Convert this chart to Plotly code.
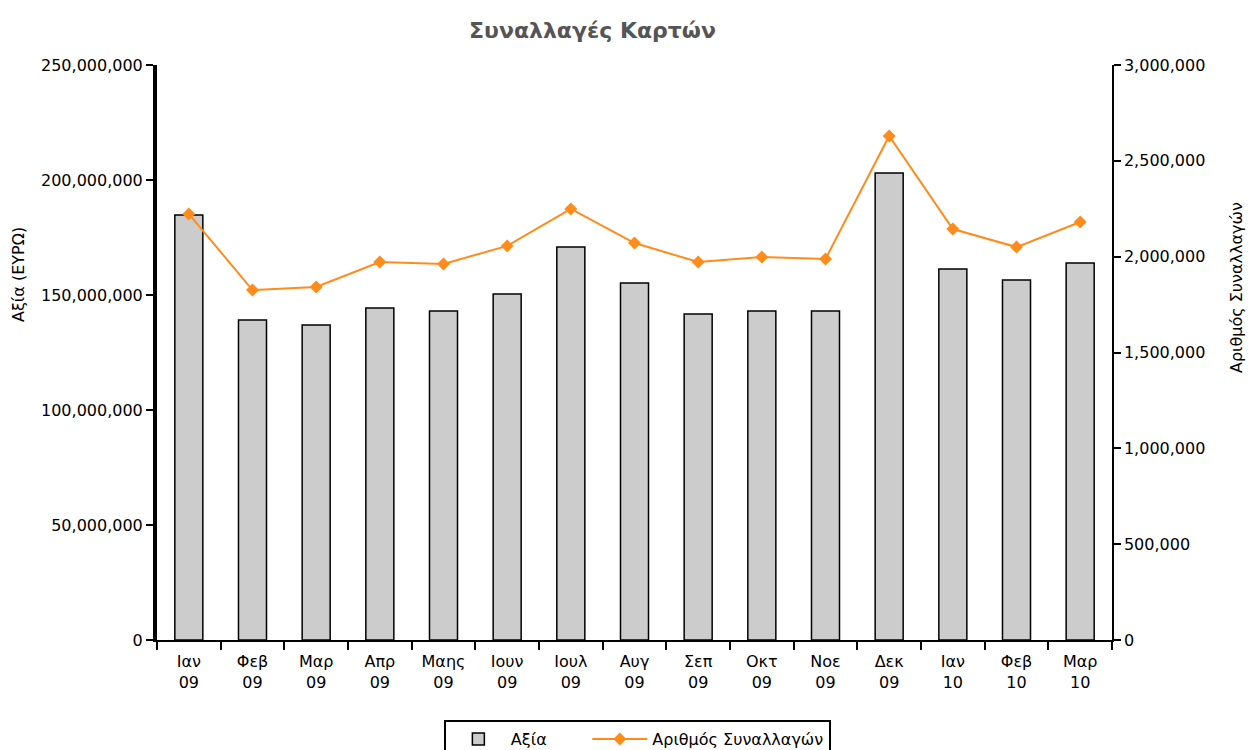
import plotly.graph_objects as go

categories = ["Ιαν<br>09", "Φεβ<br>09", "Μαρ<br>09", "Απρ<br>09", "Μαης<br>09", "Ιουν<br>09",
              "Ιουλ<br>09", "Αυγ<br>09", "Σεπ<br>09", "Οκτ<br>09", "Νοε<br>09", "Δεκ<br>09",
              "Ιαν<br>10", "Φεβ<br>10", "Μαρ<br>10"]
value_eur = [184.8e6, 139.1e6, 137.0e6, 144.3e6, 143.0e6, 150.4e6, 170.9e6, 155.2e6,
             141.7e6, 143.0e6, 143.0e6, 203.0e6, 161.3e6, 156.5e6, 163.9e6]
num_transactions = [2223000, 1826000, 1842000, 1972000, 1962000, 2056000, 2249000, 2071000,
                    1972000, 1998000, 1988000, 2630000, 2144000, 2050000, 2181000]
left_ticks = [0, 50e6, 100e6, 150e6, 200e6, 250e6]
right_ticks = [0, 500000, 1000000, 1500000, 2000000, 2500000, 3000000]

FONT = "DejaVu Sans"
L, R, T, B = 157, 1112, 65, 640
PW, PH = R - L, B - T
NB = "\u00a0"

fig = go.Figure()
fig.add_trace(go.Bar(
    x=categories, y=value_eur, name="Αξία" + NB * 7,
    marker=dict(color="#cccccc", line=dict(color="black", width=1.5)),
    width=0.44, yaxis="y"))
fig.add_trace(go.Scatter(
    x=categories, y=num_transactions, name="Αριθμός Συναλλαγών",
    mode="lines+markers", yaxis="y2",
    line=dict(color="#ff8c1a", width=2),
    marker=dict(symbol="diamond", size=10, color="#ff8c1a")))

fig.update_layout(
    width=1250, height=750,
    margin=dict(l=L, r=1250 - R, t=T, b=750 - B, autoexpand=False),
    paper_bgcolor="white", plot_bgcolor="white",
    font=dict(family=FONT, size=16, color="black"),
    title=dict(text="<b>Συναλλαγές Καρτών</b>", x=0.474, xanchor="center", y=0.96,
               yanchor="middle", font=dict(size=22, color="#555555", family=FONT)),
    showlegend=True,
    legend=dict(orientation="h", x=0.503, xanchor="center", y=-(720 - B) / PH, yanchor="top",
                bordercolor="black", borderwidth=2, font=dict(size=16),
                itemwidth=55, tracegroupgap=0),
    xaxis=dict(range=[-0.5, 14.5], showline=True, linecolor="black", linewidth=1.5,
               ticks="outside", tickson="boundaries", ticklen=8, tickwidth=1.5,
               tickcolor="black", showgrid=False, tickfont=dict(size=16),
               automargin=False, ticklabelstandoff=6),
    yaxis=dict(range=[0, 250e6], tickvals=left_ticks, tickformat=",d",
               showline=True, linecolor="black", linewidth=4, ticks="outside",
               ticklen=7, tickwidth=1.5, tickcolor="black", showgrid=False,
               zeroline=False, tickfont=dict(size=16), automargin=False),
    yaxis2=dict(range=[0, 3000000], tickvals=right_ticks, tickformat=",d",
                overlaying="y", side="right", showline=True, linecolor="black",
                linewidth=1.5, ticks="outside", ticklen=7, tickwidth=1.5,
                tickcolor="black", showgrid=False, zeroline=False,
                tickfont=dict(size=16), automargin=False),
    bargap=0.5,
)

fig.add_annotation(text="Αξία (ΕΥΡΩ)", xref="paper", yref="paper",
                   x=(18 - L) / PW, y=(B - 275) / PH, textangle=-90,
                   showarrow=False, font=dict(size=16), xanchor="center", yanchor="middle")
fig.add_annotation(text="Αριθμός Συναλλαγών", xref="paper", yref="paper",
                   x=(1236 - L) / PW, y=(B - 288) / PH, textangle=-90,
                   showarrow=False, font=dict(size=16), xanchor="center", yanchor="middle")

fig.write_html("out.html", config={"displayModeBar": False},
               post_script="document.body.style.margin='0px';")
